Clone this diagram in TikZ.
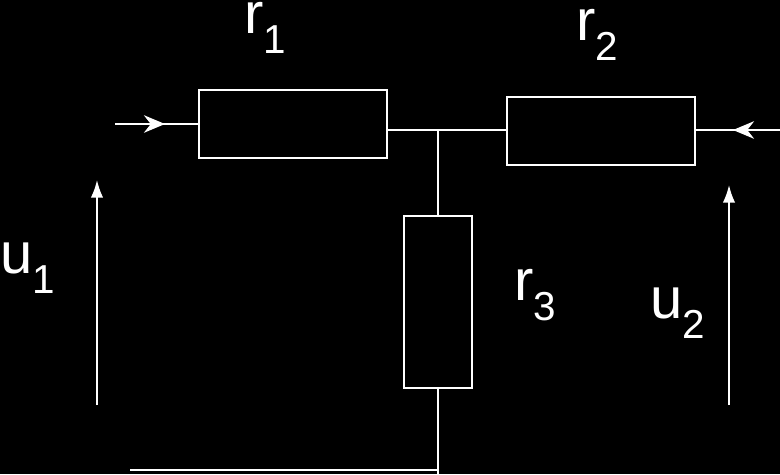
\documentclass[tikz,border=0pt]{standalone}
\usepackage{fontspec}
\setmainfont{Liberation Sans}
\usetikzlibrary{positioning,arrows.meta}
\newcommand{\lsub}[2]{#1\raisebox{-0.35em}{\fontsize{23}{26}\selectfont #2}}
\tikzset{
  res/.style={draw=white, line width=1pt, minimum width=188*0.02cm, minimum height=68*0.02cm, inner sep=0pt},
  wire/.style={white, line width=1pt},
  lbl/.style={white, font=\fontsize{33}{38}\selectfont, inner sep=0pt},
}
\begin{document}
\begin{tikzpicture}[x=0.02cm, y=-0.02cm]
\fill[black] (0,0) rectangle (780,474);
\useasboundingbox (0,0) rectangle (780,474);

\node[res] (R1) at (293,124) {};
\node[res] (R2) at (601,131) {};
\node[res, minimum width=68*0.02cm, minimum height=172*0.02cm] (R3) at (438,302) {};
\coordinate (J) at (438,130);
\coordinate (L) at (115,124);
\coordinate (LA) at (165,124);
\coordinate (Rt) at (780,130);
\coordinate (RA) at (733,130);
\coordinate (B) at (438,474);
\coordinate (BL) at (130,470);
\coordinate (BR) at (438,470);

\draw[wire] (L) -- (R1.west);
\draw[wire, -{Stealth[length=12pt,width=10pt]}] (L) -- (LA);
\draw[wire] (R1.east |- J) -- (J) -- (R2.west |- J);
\draw[wire] (R2.east |- Rt) -- (Rt);
\draw[wire, -{Stealth[length=12pt,width=10pt]}] (Rt) -- (RA);
\draw[wire] (J) -- (R3.north);
\draw[wire] (R3.south) -- (B);
\draw[wire, line width=1.5pt] (BL) -- (BR);

% voltage arrows
\coordinate (U1a) at (97,405);
\coordinate (U1b) at (97,180);
\coordinate (U2a) at (729,405);
\coordinate (U2b) at (729,185);
\draw[wire, -{Latex[length=10pt,width=7pt]}] (U1a) -- (U1b);
\draw[wire, -{Latex[length=10pt,width=7pt]}] (U2a) -- (U2b);

\node[lbl] (r1) at (265,28) {\lsub{r}{1}};
\node[lbl] (r2) at (597,35) {\lsub{r}{2}};
\node[lbl] (r3) at (535,295) {\lsub{r}{3}};
\node[lbl] (u1) at (28,268) {\lsub{u}{1}};
\node[lbl] (u2) at (678,313) {\lsub{u}{2}};
\end{tikzpicture}
\end{document}
